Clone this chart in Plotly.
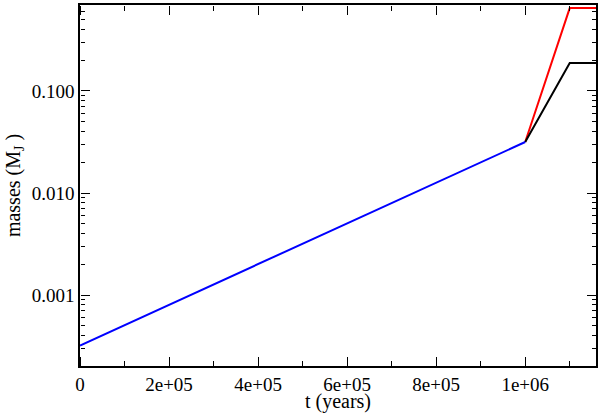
import plotly.graph_objects as go

# time (years) and masses (Jupiter masses)
t_core = [0, 1.0e6]
m_core = [0.00032, 0.0316]

t_after = [1.0e6, 1.1e6, 1.16e6]
m_red = [0.0316, 0.65, 0.65]
m_black = [0.0316, 0.188, 0.188]

x_ticks = [0, 2e5, 4e5, 6e5, 8e5, 1e6]
x_labels = ["0", "2e+05", "4e+05", "6e+05", "8e+05", "1e+06"]
y_ticks = [0.001, 0.01, 0.1]
y_labels = ["0.001", "0.010", "0.100"]

x_range = [0, 1.159e6]
y_range = [-3.696, -0.157]

fig = go.Figure()
fig.add_trace(go.Scatter(x=t_after, y=m_red, mode="lines",
                         line=dict(color="#ff0000", width=2)))
fig.add_trace(go.Scatter(x=t_after, y=m_black, mode="lines",
                         line=dict(color="#000000", width=2)))
fig.add_trace(go.Scatter(x=t_core, y=m_core, mode="lines",
                         line=dict(color="#0000ff", width=2)))

# invisible traces so the tick-only overlay axes get drawn
for xa, ya in [("x2", "y"), ("x3", "y"), ("x", "y2"), ("x", "y3")]:
    fig.add_trace(go.Scatter(x=t_core, y=m_core, xaxis=xa, yaxis=ya, mode="lines",
                             line=dict(width=0, color="rgba(0,0,0,0)"),
                             hoverinfo="skip", showlegend=False))

tickfont = dict(family="Liberation Serif", size=19, color="black")

# tick-only overlay axes: an axis whose "outside" points into the plot,
# so the ticks face inwards on all four sides of the frame
def tick_axis(**kw):
    d = dict(anchor="free", showline=False, showgrid=False, zeroline=False,
             showticklabels=False, ticks="outside", tickcolor="black",
             tickwidth=1.2, ticklen=9, automargin=False)
    d.update(kw)
    return d

x_minor = dict(dtick=1e5, tick0=0, ticks="outside", ticklen=5, tickcolor="black", tickwidth=1.2)
y_minor = dict(dtick="D1", ticks="outside", ticklen=4, tickcolor="black", tickwidth=1.2)

fig.update_layout(
    width=600, height=413,
    margin=dict(l=80, r=2, t=5, b=47),
    plot_bgcolor="white", paper_bgcolor="white",
    showlegend=False,
    font=dict(family="Liberation Serif", color="black"),
    xaxis=dict(range=x_range, tickvals=x_ticks, ticktext=x_labels,
               showline=True, linecolor="black", linewidth=1.5, mirror=True,
               ticks="", showgrid=False, zeroline=False, tickfont=tickfont,
               title=dict(text="t (years)", font=dict(size=20), standoff=2)),
    yaxis=dict(type="log", range=y_range, tickvals=y_ticks, ticktext=y_labels,
               showline=True, linecolor="black", linewidth=1.5, mirror=True,
               ticks="", showgrid=False, zeroline=False, tickfont=tickfont,
               title=dict(text="masses (M<sub>J</sub> )", font=dict(size=20), standoff=6)),
    xaxis2=tick_axis(overlaying="x", side="top", position=0, range=x_range,
                     tickvals=x_ticks, minor=x_minor),
    xaxis3=tick_axis(overlaying="x", side="bottom", position=1, range=x_range,
                     tickvals=x_ticks, minor=x_minor),
    yaxis2=tick_axis(overlaying="y", side="right", position=0, type="log", range=y_range,
                     tickvals=y_ticks, minor=y_minor),
    yaxis3=tick_axis(overlaying="y", side="left", position=1, type="log", range=y_range,
                     tickvals=y_ticks, minor=y_minor),
)

# drop the page's default body margin so the figure sits at the window's corner
fig.write_html("out.html", config={"displayModeBar": False},
               post_script="document.body.style.margin='0';")
